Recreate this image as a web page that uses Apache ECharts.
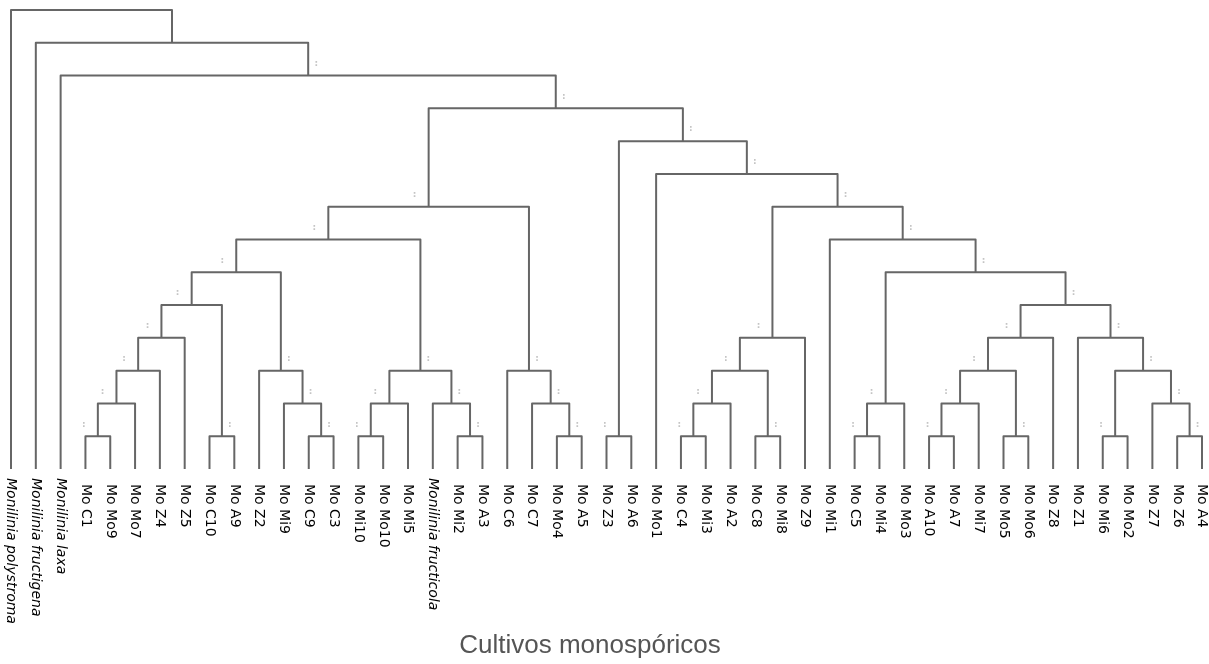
<!DOCTYPE html>
<html>
<head>
<meta charset="utf-8">
<script src="https://cdn.jsdelivr.net/npm/echarts@6/dist/echarts.min.js"></script>
<style>html,body{margin:0;padding:0;background:#fff}#c{width:1209px;height:664px}</style>
</head>
<body>
<div id="c"></div>
<script>
// Leaf labels (left to right)
const leafLabels = [
  'Monilinia polystroma','Monilinia fructigena','Monilinia laxa',
  'Mo C1','Mo Mo9','Mo Mo7','Mo Z4','Mo Z5','Mo C10','Mo A9','Mo Z2','Mo Mi9','Mo C9','Mo C3',
  'Mo Mi10','Mo Mo10','Mo Mi5','Monilinia fructicola','Mo Mi2','Mo A3','Mo C6','Mo C7','Mo Mo4','Mo A5',
  'Mo Z3','Mo A6','Mo Mo1','Mo C4','Mo Mi3','Mo A2','Mo C8','Mo Mi8','Mo Z9','Mo Mi1','Mo C5','Mo Mi4',
  'Mo Mo3','Mo A10','Mo A7','Mo Mi7','Mo Mo5','Mo Mo6','Mo Z8','Mo Z1','Mo Mi6','Mo Mo2','Mo Z7','Mo Z6','Mo A4'
];
// Merges: [childA, childB, level]; ids < 49 are leaves, id 49+k is the k-th merge
const merges = [
  [3,4,1],[49,5,2],[50,6,3],[51,7,4],[8,9,1],[52,53,5],[12,13,1],[11,55,2],[10,56,3],[54,57,6],
  [14,15,1],[59,16,2],[18,19,1],[17,61,2],[60,62,3],[58,63,7],[22,23,1],[21,65,2],[20,66,3],[64,67,8],
  [24,25,1],[27,28,1],[70,29,2],[30,31,1],[71,72,3],[73,32,4],[34,35,1],[75,36,2],[37,38,1],[77,39,2],
  [40,41,1],[78,79,3],[80,42,4],[44,45,1],[47,48,1],[46,83,2],[82,84,3],[43,85,4],[81,86,5],[76,87,6],
  [33,88,7],[74,89,8],[26,90,9],[69,91,10],[68,92,11],[2,93,12],[1,94,13],[0,95,14]
];
// internal nodes without a support mark
const unmarkedNodes = [95];
const maxLevel = 14;

const nLeaf = leafLabels.length;
const nodeX = [], nodeL = [];
for (let i = 0; i < nLeaf; i++) { nodeX.push(i); nodeL.push(0); }
const side = {}; // child id -> 'L' or 'R'
const branchData = [];
merges.forEach(function (m) {
  const a = m[0], b = m[1], L = m[2];
  const x = (nodeX[a] + nodeX[b]) / 2;
  nodeX.push(x); nodeL.push(L);
  side[a] = 'L'; side[b] = 'R';
  branchData.push({coords: [[nodeX[a], nodeL[a]], [nodeX[a], L], [nodeX[b], L], [nodeX[b], nodeL[b]]]});
});
const markData = [];
for (let id = nLeaf; id < nodeX.length; id++) {
  if (side[id] && unmarkedNodes.indexOf(id) < 0) markData.push([nodeX[id], nodeL[id], side[id] === 'L' ? 0 : 1]);
}

const chart = echarts.init(document.getElementById('c'), null, {renderer: 'canvas'});
chart.setOption({
  animation: false,
  backgroundColor: '#ffffff',
  title: {
    text: 'Cultivos monospóricos',
    left: 585, top: 628, textAlign: 'center',
    textStyle: {fontFamily: 'Liberation Sans, Arial, sans-serif', fontSize: 26, fontWeight: 'normal', color: '#555555'}
  },
  grid: {left: 11, right: 5, top: 10, bottom: 195, containLabel: false},
  xAxis: {
    type: 'value', min: 0, max: nLeaf - 1, interval: 1,
    axisLine: {show: false}, axisTick: {show: false}, splitLine: {show: false},
    axisLabel: {
      show: true, rotate: -90, margin: 9, showMinLabel: true, showMaxLabel: true,
      formatter: function (v) {
        const s = leafLabels[Math.round(v)] || '';
        return s.indexOf('Monilinia') === 0 ? '{it|' + s + '}' : '{n|' + s + '}';
      },
      rich: {
        it: {fontFamily: 'DejaVu Sans', fontSize: 14, fontStyle: 'italic', color: '#000'},
        n: {fontFamily: 'DejaVu Sans', fontSize: 14, color: '#000', padding: [0, 0, 0, 6]}
      }
    }
  },
  yAxis: {
    type: 'value', min: 0, max: maxLevel,
    show: false, splitLine: {show: false}
  },
  series: [
    {
      type: 'lines', coordinateSystem: 'cartesian2d', polyline: true,
      silent: true,
      lineStyle: {color: '#666666', width: 2, opacity: 1, join: 'round'},
      data: branchData
    },
    {
      type: 'custom', coordinateSystem: 'cartesian2d', silent: true,
      data: markData,
      renderItem: function (params, api) {
        const p = api.coord([api.value(0), api.value(1)]);
        const right = api.value(2) === 1;
        return {
          type: 'text',
          x: p[0] + (right ? 8 : -14), y: p[1] - 12,
          style: {text: ':', fill: '#c4c4c4', font: 'bold 9px DejaVu Sans', align: 'center', verticalAlign: 'middle'}
        };
      }
    }
  ]
});
</script>
</body>
</html>
